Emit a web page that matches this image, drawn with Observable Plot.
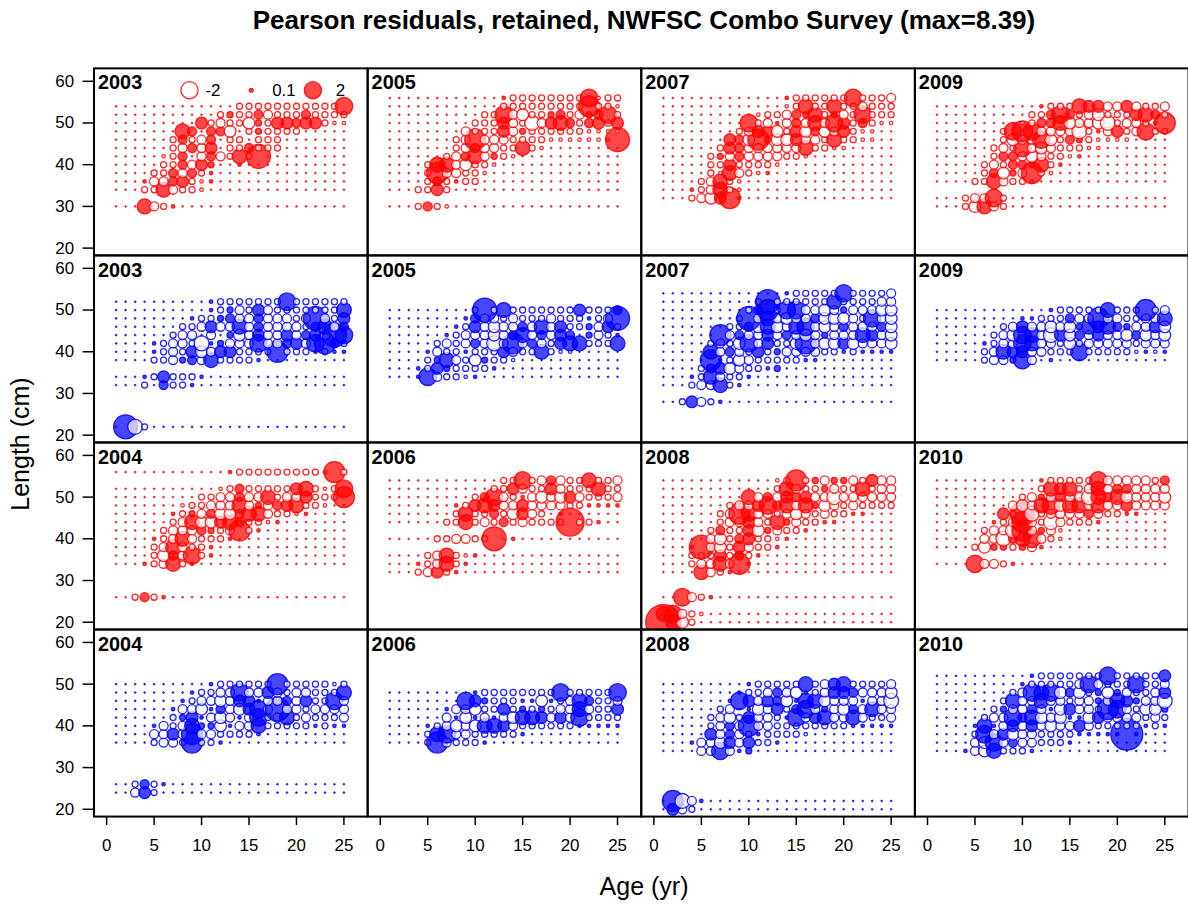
<!DOCTYPE html>
<html><head><meta charset="utf-8">
<script src="https://cdn.jsdelivr.net/npm/d3@7"></script>
<script src="https://cdn.jsdelivr.net/npm/@observablehq/plot@0.6"></script>
<style>
html,body{margin:0;padding:0;background:#fff;overflow:hidden;width:1188px;height:907px}
body{position:relative;font-family:"Liberation Sans",Arial,sans-serif;color:#000}
#title{position:absolute;left:94px;width:1100px;top:0;height:40px;line-height:40px;text-align:center;font-weight:bold;font-size:26px}
#chart{position:absolute;left:0;top:40px}
#ylab{position:absolute;left:20px;top:444px;transform:translate(-50%,-50%) rotate(-90deg);font-size:25px;white-space:nowrap}
#xlab{position:absolute;left:644px;top:886px;transform:translate(-50%,-50%);font-size:25px;white-space:nowrap}
</style></head>
<body>
<div id="title">Pearson residuals, retained, NWFSC Combo Survey (max=8.39)</div>
<div id="chart"></div>
<div id="ylab">Length (cm)</div>
<div id="xlab">Age (yr)</div>
<script>
// ---- data ----
const xTicks = [0, 5, 10, 15, 20, 25];
const yTicks = [20, 30, 40, 50, 60];
const ages = [1,2,3,4,5,6,7,8,9,10,11,12,13,14,15,16,17,18,19,20,21,22,23,24,25];
// residual magnitude key: uppercase = positive (filled), lowercase = negative (open), "." = near zero
const levelKey = {".":0.02, A:0.08, B:0.25, C:0.55, D:0.95, E:1.5, F:2.1, G:3.0, H:3.9, I:5.3, J:6.9, K:8.39};
const legendValues = [-2, 0.1, 2];

const F2003 = [
[54, ".............bbbbbbbbbbbF"],
[52, "...........bBbbCcbbbCbbbb"],
[50, ".........DbcbbdBbDDCDDbaa"],
[48, ".......EC.CCd.bBbbbb....."],
[46, "......bCbcC.bb.bbb......."],
[44, "......bcCcD.bbCbbb......."],
[42, ".....abC.cCcbEbH........."],
[40, ".....bbCcDB..A..........."],
[38, "....bbCcCbA.............."],
[36, "...AccCDbaA.............."],
[34, "...bbEcbba..............."],
[30, "...EcbA.................."]];
const F2005 = [
[56, "............AbbbbbbbbFabb"],
[54, "............bbbbbbbbbGbba"],
[52, "..........bbFcdbbBCbcBCFb"],
[50, ".........bbbDcbecDECbCDbD"],
[48, "........cbbbDcBbbbbbbaaaa"],
[46, ".......bcGcccbbbbaaaaaaaH"],
[44, ".......bcCccbbEba........"],
[42, "......bcCEcBba..........."],
[40, "....bEEcdbba............."],
[38, "....bGccbba.............."],
[36, "....bCbAbb..............."],
[34, "...bbDb.................."],
[30, "...bCba.................."]];
const F2007 = [
[56, ".............AbbbbbbFbbbc"],
[54, ".............abEbbEbbcbbb"],
[52, "..........abbcCBEbBcbFbbb"],
[50, ".........FbcAcCcEcFDbCbaa"],
[48, "........bcDDdbDdCdcDbaa.."],
[46, ".......DCdGBddDccbEbbaa.."],
[44, "......bDCccccccEbbaa....."],
[42, ".....bBcCccccbba........."],
[40, ".....bbDbbbba............"],
[38, ".....baEcbaA............."],
[36, "....bcEba................"],
[34, "...AbcEba................"],
[32, "...bcdDGA................"]];
const F2009 = [
[54, "...........AbbbEDDccDcbbc"],
[52, "..........bbCFCbcdbbbDECb"],
[50, ".........abCCEdccdebccbAG"],
[48, ".......bFGFccccebAcDbcFbb"],
[46, ".......bdccFdbCBbaaaa...."],
[44, "......bcbFcdcbbbaa......."],
[42, "......bCCcdcbbaA........."],
[40, ".....bcbCCBEbA..........."],
[38, ".....bCdBcGba............"],
[36, "....bbEcbba.............."],
[32, "...bccFb................."],
[30, "...bdEcb................."]];
const M2003 = [
[52, "..........AbbbbbbbFbbbbbb"],
[50, "..........AbBcbDcbbbbbbbE"],
[48, "........AbbBCccCcccbcHcbD"],
[46, ".......bbcDccEcCccccbCEcC"],
[44, "......bcc.c.BdcDccDcCDcHF"],
[42, "....AbccbeABcccFccCDcFGCb"],
[40, "....AbcbDdcDDbbbbGbbbAbAA"],
[38, "....bbcBCcEbbbbA........."],
[34, "...AbDbbbA..............."],
[32, "...b.CbbA................"],
[22, ".Heb....................."]];
const M2005 = [
[50, ".........bHbEbbbbbbbDbbbC"],
[48, "........ACccbcbbbcbbbAbcH"],
[46, ".......AbDcdccCcEcDbbBcDb"],
[44, "......AbcccdcCEcCcDC.BcbA"],
[42, ".....bcbcCcecGcCcbDEEbbbE"],
[40, "....AcbbAbbbDcbbEbaa....."],
[38, "....bBEcbdBbba..........."],
[36, "...AbDBbbbbA............."],
[34, "...AFcbbaA..............."]];
const M2007 = [
[54, ".............AbbbbbFbbbbc"],
[52, "..........bHbbbbbbEbbbbcc"],
[50, ".........bCGbFFccdcBcccdd"],
[48, "........bHcEcdccCdddcbFcd"],
[46, ".......bbCdEdcEFcdcCcccCd"],
[44, "......GcCccDcCcdcBcccEDcd"],
[42, ".....bcbdFcDbbdGcddDdcccd"],
[40, ".....EcCcbDbBccccbbAbAAAA"],
[38, ".....GAbdcbbbbbAA........"],
[36, "....bCDdcbbAB............"],
[34, "...AbEcbbA..............."],
[32, "...bccEbA................"],
[28, "..bDcbA.................."]];
const M2009 = [
[50, "............AbbbbbEbbbGbc"],
[48, ".........AAbbbCccGccbbccE"],
[46, ".......bcDccdcdBEDECBccDd"],
[44, "......bcdFEceDdCcDccdCdcd"],
[42, ".....AbccFEccbdbcccccbccc"],
[40, ".....bcEDDccbbbFbbbbbaAaA"],
[38, ".....bccBFc.A............"]];
const F2004 = [
[56, "............AbbbbbbbbbaGb"],
[52, "...........abCbbbbbDEbabF"],
[50, ".........bbccCccEbccDbbbG"],
[48, ".......abbcccEcBcCDEbba.."],
[46, "......AbBcCddCEEcbbaA...."],
[44, "......bcEddDECbbaA......."],
[42, ".....bcccCBbcGbA........."],
[40, "....AbcEcbbbA............"],
[38, "....bcEcbbA.............."],
[36, "....bdCcFbA.............."],
[34, "...AbcEbA................"],
[26, "..bCbA..................."]];
const F2006 = [
[54, "............bbFbcCcbbEbbc"],
[52, "...........bbDcbbDcbbbEbb"],
[50, ".........bCFcbAcdcdDcbbbc"],
[48, ".......AbDEDccDccccbbAAAA"],
[46, ".......bEbbCbdDcb.A......"],
[44, "......bbEbcbCbcbbbbIbbA.."],
[40, ".....bbccbbH.A..........."],
[36, "....bcEbaA..............."],
[34, "...AbcEbA................"],
[32, "...bcDbA................."]];
const F2008 = [
[54, "............abGbBcBBcbDcc"],
[52, "............bEcbbBcbbEbcc"],
[50, ".........EcCcDCDccecccccc"],
[48, ".......bccDFCEcEBdcbcbbbb"],
[46, "......bcGEccbcdcbcbbAA..."],
[44, "......bccDcbEBcbbAA......"],
[42, ".....bCbbDdBcbbA........."],
[40, ".....cdbCDbbaA..........."],
[38, "...AHcdbDcbbA............"],
[36, "...bbbDbCbA.............."],
[34, "...bccEcGA..............."],
[32, "....EcbA................."],
[26, "..FcbA..................."],
[22, "EFcba...................."],
[20, "KEdb....................."]];
const F2010 = [
[54, "...........AbbbbbFcccccbC"],
[52, "...........bEDEbcEcCCcccc"],
[50, ".........bcBcCcceECEdcccd"],
[48, "........cdcEFdEEcEccDcccc"],
[46, ".......DbHebccccCcbbAA..."],
[44, "......AbcGcbecbbbA......."],
[42, ".....bcceGcBca..........."],
[40, ".....cceCEFcba..........."],
[38, "....bdBBbBcA............."],
[34, "....FccbA................"]];
const M2004 = [
[50, "..........AbbbbbbGbbbbbab"],
[48, "........AbbccFccDcbccbbbE"],
[46, ".......AbccdcDDAccCcDbbFc"],
[44, "......AccdACcdDFcHccbcccc"],
[42, "......bBDAcdcAcFbcEbcbbbc"],
[40, "....AcbcEBBdAccEbbbbbAbAA"],
[38, "....ccDcGccbbbbA........."],
[36, "....bccbGbbA............."],
[26, "..bCbA..................."],
[24, "..cDb...................."]];
const M2006 = [
[48, ".........AbbbbbbbbFbbbbbF"],
[46, "........FDBbbbAAdAbcECbbc"],
[44, "......AccdbbDbBbBbccEcbbD"],
[42, "......cAdAcAcdEEDcDcFbbbb"],
[40, "....AbcdcdEEDcbbbbbbAAAAA"],
[38, "....bEFccbbbbbA.........."],
[36, "....bGcbbbA.............."]];
const M2008 = [
[50, ".........AbbbbbEbcDEbbbbc"],
[48, "........AbbcCcdAbcDDCcccd"],
[46, ".......AFDcDCdAEEdcccAcce"],
[44, "......bc.AdcDbCFcBcdCcEcc"],
[42, ".....bcdbDccbAFcDEccEcbbc"],
[40, ".....bcCcGccbbbbbbbbAAAAA"],
[38, ".....DcCcbAbbbba........."],
[36, "...AccdDcDbbA............"],
[34, "....ccFcAB..............."],
[22, ".GecA...................."],
[20, ".Dcb....................."]];
const M2010 = [
[52, "..........AbbbbbbbFbbbbbD"],
[50, ".........AbbbbbcFcbbbFbbc"],
[48, "........bcFEFdCdbBdBcbbcD"],
[46, ".......bEccEccbccBcEDBcce"],
[44, "......bBccCcAdDccbGFcbddB"],
[42, ".....bccFCEdcdAAdDccccbcb"],
[40, "....AEAcDcDcdccDcbbbbbAbA"],
[38, "....bFcDdccbbbbAAAAAJA..."],
[36, "....cdFcCccbbbA.........."],
[34, "...AcdEbbbA.............."]];

const panels = [
  {year:2003, sex:"F", col:0, row:0, rows:F2003},
  {year:2005, sex:"F", col:1, row:0, rows:F2005},
  {year:2007, sex:"F", col:2, row:0, rows:F2007},
  {year:2009, sex:"F", col:3, row:0, rows:F2009},
  {year:2003, sex:"M", col:0, row:1, rows:M2003},
  {year:2005, sex:"M", col:1, row:1, rows:M2005},
  {year:2007, sex:"M", col:2, row:1, rows:M2007},
  {year:2009, sex:"M", col:3, row:1, rows:M2009},
  {year:2004, sex:"F", col:0, row:2, rows:F2004},
  {year:2006, sex:"F", col:1, row:2, rows:F2006},
  {year:2008, sex:"F", col:2, row:2, rows:F2008},
  {year:2010, sex:"F", col:3, row:2, rows:F2010},
  {year:2004, sex:"M", col:0, row:3, rows:M2004},
  {year:2006, sex:"M", col:1, row:3, rows:M2006},
  {year:2008, sex:"M", col:2, row:3, rows:M2008},
  {year:2010, sex:"M", col:3, row:3, rows:M2010}
];

// ---- styles ----
const palette = {
  F: {pos:"rgba(255,0,0,0.72)", neg:"rgba(255,255,255,0.7)", line:"rgba(255,0,0,0.85)"},
  M: {pos:"rgba(0,0,255,0.72)", neg:"rgba(255,255,255,0.7)", line:"rgba(0,0,255,0.85)"}
};

function residual(ch) {
  if (ch === ".") return levelKey["."];
  const up = ch.toUpperCase();
  if (!(up in levelKey)) return null;
  return ch === up ? levelKey[up] : -levelKey[up];
}

const points = [];
for (const p of panels) {
  const rowsAsc = p.rows.slice().sort((a, b) => a[0] - b[0]);
  for (const [len, codes] of rowsAsc) {
    ages.forEach((age, i) => {
      const ch = codes[i] === undefined ? "." : codes[i];
      const z = residual(ch);
      if (z === null) return;
      const pal = palette[p.sex];
      points.push({col:p.col, row:p.row, age, len, z, size:Math.abs(z),
        fill: z >= 0 ? pal.pos : pal.neg, stroke: pal.line,
        sw: Math.abs(z) < 0.05 ? 0.9 : 1.3});
    });
  }
}

const legendItems = legendValues.map(v => ({col:0, row:0, z:Math.abs(v), label:String(v),
  fill: v >= 0 ? palette.F.pos : palette.F.neg, stroke: palette.F.line}));
const legendDx = [96, 158, 220];
const legendTx = [112, 179, 243];

const legendMarks = [];
legendItems.forEach((d, i) => {
  legendMarks.push(Plot.dot([d], {fx:"col", fy:"row", r:"z", frameAnchor:"top-left", dx:legendDx[i], dy:22,
    fill:"fill", stroke:"stroke", strokeWidth:1.3}));
  legendMarks.push(Plot.text([d], {fx:"col", fy:"row", text:"label", frameAnchor:"top-left", dx:legendTx[i], dy:22,
    textAnchor:"start", lineAnchor:"middle", fontSize:17, fill:"black"}));
});

const chart = Plot.plot({
  width: 1194, height: 867,
  marginLeft: 94, marginRight: 0, marginTop: 28, marginBottom: 87,
  x: {domain: [-1.33, 27.5]},
  y: {domain: [18.25, 63.1]},
  fx: {domain: [0,1,2,3], padding: 0, axis: null},
  fy: {domain: [0,1,2,3], padding: 0, axis: null},
  r: {type: "sqrt", domain: [0, 8.39], range: [0, 17.7]},
  color: {type: "identity"},
  style: {fontFamily: "'Liberation Sans', Arial, sans-serif", fontSize: "17px", color: "black", background: "white", overflow: "visible"},
  marks: [
    Plot.dot(points, {x:"age", y:"len", r:"size", fx:"col", fy:"row", fill:"fill", stroke:"stroke",
      strokeWidth:"sw", sort:null, clip:true}),
    Plot.text(panels, {fx:"col", fy:"row", text: d => String(d.year), frameAnchor:"top-left", dx:4, dy:7,
      lineAnchor:"top", textAnchor:"start", fontWeight:"bold", fontSize:20, fill:"black"}),
    ...legendMarks,
    Plot.axisX({ticks: xTicks, tickSize: 9, tickPadding: 14, fontSize: 17, strokeWidth: 1.5, label: null}),
    Plot.axisY({ticks: yTicks, tickSize: 11, tickPadding: 9, fontSize: 17, strokeWidth: 1.5, label: null}),
    Plot.frame({stroke: "black", strokeWidth: 2})
  ]
});
document.getElementById("chart").appendChild(chart);
</script>
</body></html>
